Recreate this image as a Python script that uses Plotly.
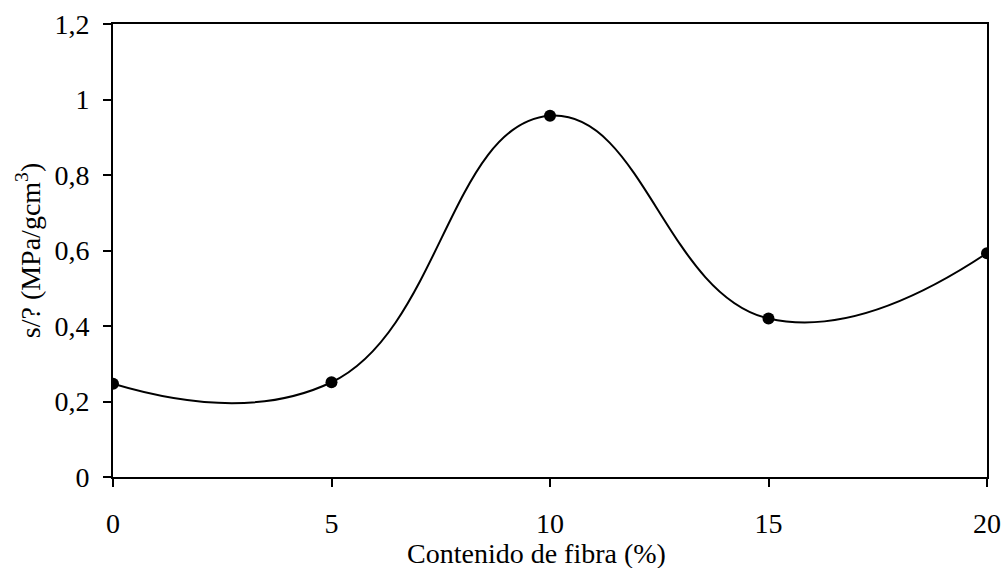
import plotly.graph_objects as go

fibra = [0, 5, 10, 15, 20]
resistencia = [0.247, 0.251, 0.957, 0.420, 0.593]

x_ticks = [0, 5, 10, 15, 20]
y_ticks = [0, 0.2, 0.4, 0.6, 0.8, 1.0, 1.2]
y_tick_text = ["0", "0,2", "0,4", "0,6", "0,8", "1", "1,2"]

x_title = "Contenido de fibra (%)"
y_title = "s/? (MPa/gcm<sup>3</sup>)"

fig = go.Figure()
fig.add_trace(go.Scatter(
    x=fibra, y=resistencia, mode="lines+markers",
    line=dict(color="black", width=2, shape="spline", smoothing=1.3),
    marker=dict(color="black", size=12),
    showlegend=False,
))

font_family = "Liberation Serif, Times New Roman, serif"
fig.update_layout(
    width=1003, height=568,
    margin=dict(l=113, r=16, t=24, b=91),
    paper_bgcolor="white", plot_bgcolor="white",
    font=dict(family=font_family, size=28, color="black"),
)
fig.update_xaxes(
    range=[0, 20], tickvals=x_ticks, ticktext=[str(v) for v in x_ticks],
    showgrid=False, zeroline=False, automargin=False,
    showline=True, linecolor="black", linewidth=2, mirror=True,
    ticks="outside", ticklen=8, tickwidth=2, tickcolor="black",
    ticklabelstandoff=12,
)
fig.update_yaxes(
    range=[0, 1.2], tickvals=y_ticks, ticktext=y_tick_text,
    showgrid=False, zeroline=False, automargin=False,
    showline=True, linecolor="black", linewidth=2, mirror=True,
    ticks="outside", ticklen=8, tickwidth=2, tickcolor="black",
    ticklabelstandoff=8,
    title=dict(text=y_title, font=dict(size=28), standoff=6),
)
fig.add_annotation(
    text=x_title, xref="paper", yref="paper", x=0.484, y=0,
    xanchor="center", yanchor="middle", yshift=-76, showarrow=False,
    font=dict(size=28),
)

fig.write_html(
    "out.html",
    config={"displayModeBar": False},
    post_script="document.body.style.margin='0';document.body.style.overflow='hidden';",
)
